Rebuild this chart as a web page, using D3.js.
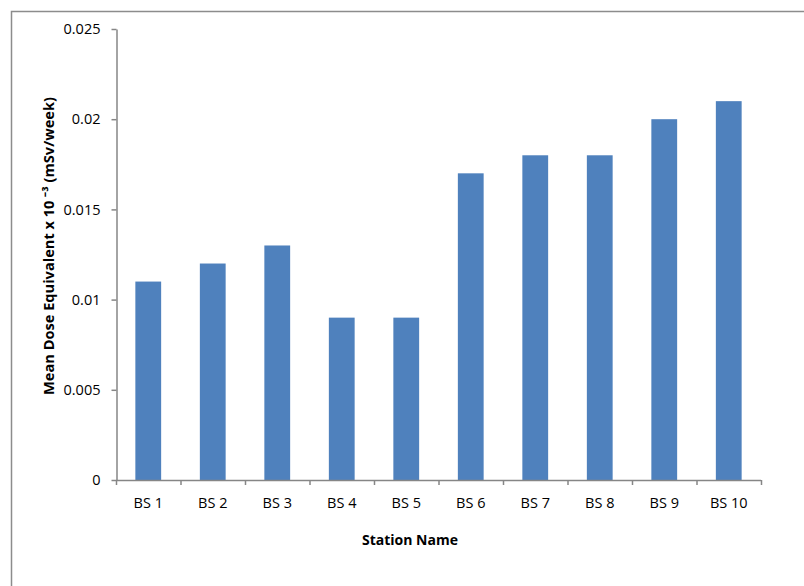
<!DOCTYPE html>
<html>
<head>
<meta charset="utf-8">
<script src="https://cdn.jsdelivr.net/npm/d3@7/dist/d3.min.js"></script>
<style>
  html, body { margin: 0; padding: 0; background: #fff; }
  svg { display: block; }
  text { font-family: "Open Sans", "Liberation Sans", sans-serif; }
</style>
</head>
<body>
<svg id="chart" width="804" height="586"></svg>
<script>
// Station names and mean dose equivalent per station
const stations = ["BS 1", "BS 2", "BS 3", "BS 4", "BS 5", "BS 6", "BS 7", "BS 8", "BS 9", "BS 10"];
const doseValues = [0.011, 0.012, 0.013, 0.009, 0.009, 0.017, 0.018, 0.018, 0.020, 0.021];
const yTicks = [0, 0.005, 0.01, 0.015, 0.02, 0.025];
const yTickLabels = ["0", "0.005", "0.01", "0.015", "0.02", "0.025"];

const svg = d3.select("#chart");
const axisColor = "#868686";

// Outer chart frame (top and left edges visible in the view)
svg.append("path")
  .attr("d", "M11.5,586 L11.5,11.5 L804,11.5")
  .attr("fill", "none")
  .attr("stroke", "#8c8c8c")
  .attr("stroke-width", 1.5);

const plot = { left: 116, right: 761, top: 29, bottom: 480 };

const x = d3.scaleBand()
  .domain(stations)
  .range([plot.left, plot.right])
  .paddingInner(0.6)
  .paddingOuter(0.3);

const y = d3.scaleLinear()
  .domain([0, 0.025])
  .range([plot.bottom, plot.top]);

// Bars
svg.append("g")
  .selectAll("rect")
  .data(stations)
  .join("rect")
  .attr("x", d => x(d))
  .attr("y", (d, i) => y(doseValues[i]))
  .attr("width", x.bandwidth())
  .attr("height", (d, i) => y(0) - y(doseValues[i]))
  .attr("fill", "#4F81BD");

// Y axis
const yAxis = svg.append("g")
  .attr("transform", `translate(${plot.left + 0.5},0)`)
  .call(d3.axisLeft(y)
    .tickValues(yTicks)
    .tickFormat((d, i) => yTickLabels[i])
    .tickSize(5)
    .tickPadding(11)
    .tickSizeOuter(0));
yAxis.select(".domain").attr("stroke", axisColor).attr("stroke-width", 1.5);
yAxis.selectAll(".tick line").attr("stroke", axisColor).attr("stroke-width", 1.5);
yAxis.selectAll(".tick text")
  .attr("fill", "#000")
  .style("font-size", "14.5px");

// X axis: ticks sit on the category boundaries
const boundaries = d3.range(stations.length + 1)
  .map(i => plot.left + i * (plot.right - plot.left) / stations.length);
const xAxisG = svg.append("g");
xAxisG.append("line")
  .attr("x1", plot.left).attr("x2", plot.right)
  .attr("y1", plot.bottom + 0.5).attr("y2", plot.bottom + 0.5)
  .attr("stroke", axisColor).attr("stroke-width", 1.5);
xAxisG.selectAll("line.tick")
  .data(boundaries)
  .join("line")
  .attr("class", "tick")
  .attr("x1", d => d + 0.5).attr("x2", d => d + 0.5)
  .attr("y1", plot.bottom).attr("y2", plot.bottom + 5)
  .attr("stroke", axisColor).attr("stroke-width", 1.5);
xAxisG.selectAll("text")
  .data(stations)
  .join("text")
  .attr("x", d => x(d) + x.bandwidth() / 2)
  .attr("y", plot.bottom + 28)
  .attr("text-anchor", "middle")
  .style("font-size", "14.5px")
  .attr("fill", "#000")
  .text(d => d);

// Axis titles
svg.append("text")
  .attr("x", 410)
  .attr("y", 545)
  .attr("text-anchor", "middle")
  .style("font-size", "14px")
  .style("font-weight", "bold")
  .text("Station Name");

svg.append("text")
  .attr("transform", "translate(54,246) rotate(-90)")
  .attr("text-anchor", "middle")
  .style("font-size", "14.6px")
  .style("font-weight", "bold")
  .text("Mean Dose Equivalent x 10 \u207B\u00B3 (mSv/week)");
</script>
</body>
</html>
